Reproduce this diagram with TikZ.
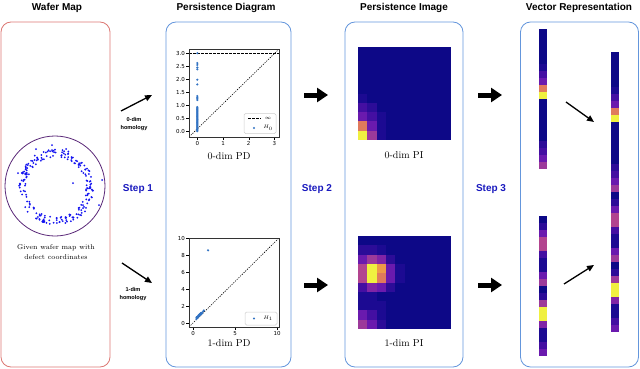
\documentclass[tikz,border=0pt]{standalone}
\usepackage{fontspec}
\newfontfamily\hel{Liberation Sans}
\newfontfamily\dvs{DejaVu Sans}
\usetikzlibrary{arrows.meta}
\definecolor{c0}{HTML}{0D0887}
\definecolor{c1}{HTML}{1C0A92}
\definecolor{c2}{HTML}{2C0C98}
\definecolor{c3}{HTML}{440FA2}
\definecolor{c4}{HTML}{6A1AAE}
\definecolor{c5}{HTML}{8024A6}
\definecolor{c6}{HTML}{9C3A9A}
\definecolor{c7}{HTML}{B2448F}
\definecolor{c8}{HTML}{E07A5C}
\definecolor{c9}{HTML}{EE9A48}
\definecolor{c10}{HTML}{F0F040}
\definecolor{wafred}{RGB}{220,120,115}
\definecolor{panblue}{RGB}{100,150,220}
\definecolor{circpurple}{RGB}{90,40,120}
\definecolor{dotblue}{RGB}{20,20,240}
\definecolor{pdblue}{RGB}{50,115,195}
\definecolor{stepblue}{RGB}{25,25,190}
\begin{document}
\begin{tikzpicture}[x=1pt,y=-1pt,
  panel/.style={draw, rounded corners=10pt, line width=0.8pt, minimum width=#1, minimum height=345pt, inner sep=0pt},
  ttl/.style={font=\hel\bfseries\fontsize{10}{12}\selectfont},
  steplbl/.style={font=\hel\bfseries\fontsize{10}{12}\selectfont, text=stepblue},
  homlbl/.style={font=\hel\bfseries\fontsize{5.6}{8.5}\selectfont, align=center},
  captxt/.style={font=\fontsize{10}{12}\selectfont},
  ticklbl/.style={font=\dvs\fontsize{5.5}{6.5}\selectfont, inner sep=0.5pt},
  axbox/.style={draw=black!80, line width=0.6pt},
  legbox/.style={draw=black!20, fill=white, rounded corners=1.5pt, line width=0.5pt},
  thinarrow/.style={line width=1.3pt, -{Triangle[length=7pt,width=6pt]}},
  blockarrow/.style={line width=5pt, -{Triangle[length=11pt,width=14pt]}},
  pddot/.style={fill=pdblue}
]
\useasboundingbox (0,0) rectangle (640,369);

% panels
\node[panel=109pt, draw=wafred] (wbox) at (55.5,194.5) {};
\node[panel=125pt, draw=panblue] (pdbox) at (228.5,194.5) {};
\node[panel=118pt, draw=panblue] (pibox) at (404,194.5) {};
\node[panel=118pt, draw=panblue] (vbox) at (579.5,194.5) {};

% titles
\node[ttl] (t1) at (57,8) {Wafer Map};
\node[ttl] (t2) at (226,8) {Persistence Diagram};
\node[ttl] (t3) at (404,8) {Persistence Image};
\node[ttl] (t4) at (579,8) {Vector Representation};

% wafer map
\node[draw=circpurple, circle, minimum size=100pt, line width=0.8pt, inner sep=0pt] (wafer) at (55,186) {};
\pgfmathsetseed{11}
\foreach \k in {1,...,220}{
  \pgfmathsetmacro\wa{360*rnd}
  \pgfmathsetmacro\wr{34+4*rand}
  \fill[dotblue, shift={(56,187)}] (\wa:\wr) circle (1pt);
}
\foreach \p in {(52,145),(36,149),(66,149),(18,173),(73,183),(102,180),(99,205)}
  \fill[dotblue] \p circle (1pt);
\node[font=\fontsize{7}{9.5}\selectfont, align=center] (wcap) at (56,252) {Given wafer map with\\defect coordinates};

% step 1 arrows
\coordinate (a0s) at (121,111); \coordinate (a0e) at (152,95);
\coordinate (a1s) at (122,263); \coordinate (a1e) at (152,283);
\draw[thinarrow] (a0s) -- (a0e);
\draw[thinarrow] (a1s) -- (a1e);
\node[homlbl] (h0) at (134,124) {0-dim\\homology};
\node[homlbl] (h1) at (133,294) {1-dim\\homology};
\node[steplbl] (s1) at (138,189) {Step 1};

% ---------- PD 0 ----------
\begin{scope}[shift={(197.3,131.2)}, x=25.7pt, y=26pt]
  \begin{scope}
    \clip (-0.32,-0.22) rectangle (3.18,3.16);
    \draw[dash pattern=on 1.2pt off 1.2pt, line width=0.6pt] (-0.32,-0.22) -- (3.18,3.16);
    \draw[dash pattern=on 2.5pt off 1.5pt, line width=0.6pt] (-0.32,3) -- (3.18,3);
  \end{scope}
  \foreach \v in {0,0.03,...,0.95} \fill[pddot] (0,\v) circle (1.2pt);
  \foreach \v in {1.2,1.25,1.3,1.35,1.8,1.98,2.38,2.45,2.55,2.62,3.0} \fill[pddot] (0,\v) circle (1.2pt);
  \foreach \v in {0.0,0.5,1.0,1.5,2.0,2.5,3.0}{
    \draw[line width=0.4pt] (-0.32,\v) -- ++(-3pt,0);
    \node[ticklbl, anchor=east] at ([xshift=-3.5pt]-0.32,\v) {\v};
  }
  \foreach \v in {0,1,2,3}{
    \draw[line width=0.4pt] (\v,-0.22) -- ++(0,-3pt);
    \node[ticklbl, anchor=north] at ([yshift=-3.5pt]\v,-0.22) {\v};
  }
\end{scope}
\draw[axbox] (189,49) rectangle (279,137);
\node[legbox, minimum width=32pt, minimum height=20pt] (leg0) at (260,123.5) {};
\draw[dash pattern=on 2.5pt off 1.5pt, line width=0.6pt] (248,118) -- (261,118);
\node[font=\fontsize{5}{6}\selectfont, inner sep=0pt] (inf0) at (268,118) {$\infty$};
\fill[pdblue] (254,128) circle (1.2pt);
\node[font=\fontsize{5}{6}\selectfont, inner sep=0pt] (lh0) at (268,128) {$H_0$};
\node[captxt] (pd0) at (229,156) {0-dim PD};

% ---------- PD 1 ----------
\begin{scope}[shift={(193,323)}, x=8.4pt, y=8.5pt]
  \begin{scope}
    \clip (-0.48,-0.47) rectangle (10.24,10);
    \draw[dash pattern=on 1.2pt off 1.2pt, line width=0.6pt] (-0.48,-0.47) -- (10.24,10);
  \end{scope}
  \fill[pddot] (1.8,8.55) circle (1.2pt);
  \pgfmathsetseed{5}
  \foreach \k in {1,...,28}{
    \pgfmathsetmacro\pt{0.35+0.95*rnd}
    \pgfmathsetmacro\pw{\pt+0.05+0.2*rnd}
    \fill[pddot] (\pt,\pw) circle (1.2pt);
  }
  \foreach \v in {0,2,4,6,8,10}{
    \draw[line width=0.4pt] (-0.48,\v) -- ++(-3pt,0);
    \node[ticklbl, anchor=east] at ([xshift=-3.5pt]-0.48,\v) {\v};
  }
  \foreach \v in {0,5,10}{
    \draw[line width=0.4pt] (\v,-0.47) -- ++(0,-3pt);
    \node[ticklbl, anchor=north] at ([yshift=-3.5pt]\v,-0.47) {\v};
  }
\end{scope}
\draw[axbox] (189,238) rectangle (279,327);
\node[legbox, minimum width=32pt, minimum height=13pt] (leg1) at (261,318.5) {};
\fill[pdblue] (254,318.5) circle (1.2pt);
\node[font=\fontsize{5}{6}\selectfont, inner sep=0pt] (lh1) at (268,318.5) {$H_1$};
\node[captxt] (pd1) at (229,343) {1-dim PD};

% step 2
\coordinate (b0s) at (304,95); \coordinate (b0e) at (328,95);
\coordinate (b1s) at (304,285); \coordinate (b1e) at (328,285);
\draw[blockarrow] (b0s) -- (b0e);
\draw[blockarrow] (b1s) -- (b1e);
\node[steplbl] (s2) at (317,189) {Step 2};

% ---------- PI 0 ----------
\fill[c0] (358,47) rectangle (451,140);
\foreach \i/\j/\c in {0/5/c1,0/6/c3,0/7/c4,0/8/c8,0/9/c10,
  1/6/c2,1/7/c3,1/8/c4,1/9/c6,2/7/c1,2/8/c1,2/9/c1}
  \fill[\c] (358+9.3*\i,47+9.3*\j) rectangle ++(9.3,9.3);
\node[minimum size=93pt, inner sep=0pt] (pi0) at (404.5,93.5) {};
\node[captxt] (pil0) at (404,155) {0-dim PI};

% ---------- PI 1 ----------
\fill[c0] (358,236) rectangle (451,329);
\foreach \i/\j/\c in {0/1/c2,1/1/c2,2/1/c1,
  0/2/c4,1/2/c6,2/2/c5,3/2/c2,
  0/3/c7,1/3/c10,2/3/c9,3/3/c4,4/3/c1,
  0/4/c7,1/4/c10,2/4/c8,3/4/c4,4/4/c1,
  0/5/c3,1/5/c5,2/5/c4,3/5/c2,
  0/6/c1,1/6/c1,0/7/c1,1/7/c1,2/7/c1,
  0/8/c4,1/8/c3,2/8/c1,0/9/c6,1/9/c4,2/9/c2}
  \fill[\c] (358+9.3*\i,236+9.3*\j) rectangle ++(9.3,9.3);
\node[minimum size=93pt, inner sep=0pt] (pi1) at (404.5,282.5) {};
\node[captxt] (pil1) at (404,343) {1-dim PI};

% step 3
\coordinate (c0s) at (478,95); \coordinate (c0e) at (502,95);
\coordinate (c1s) at (478,285); \coordinate (c1e) at (502,285);
\draw[blockarrow] (c0s) -- (c0e);
\draw[blockarrow] (c1s) -- (c1e);
\node[steplbl] (s3) at (491,189) {Step 3};

% ---------- vectors ----------
\foreach \c [count=\i from 0] in {c0,c0,c0,c0,c0,c1,c3,c4,c8,c10,c0,c0,c0,c0,c0,c0,c2,c3,c4,c6}
  \fill[\c] (539,29+7*\i) rectangle ++(8,7);
\foreach \c [count=\i from 0] in {c0,c2,c4,c7,c7,c3,c1,c1,c4,c6,c0,c2,c6,c10,c10,c5,c1,c1,c3,c4}
  \fill[\c] (539,216+7*\i) rectangle ++(8,7);
\foreach \c [count=\i from 0] in {c0,c0,c0,c0,c0,c1,c3,c4,c8,c10,c0,c0,c0,c0,c0,c0,c2,c3,c4,c6,
  c0,c2,c4,c7,c7,c3,c1,c1,c4,c6,c0,c2,c6,c10,c10,c5,c1,c1,c3,c4}
  \fill[\c] (611,52+7*\i) rectangle ++(8,7);
\node[minimum width=8pt, minimum height=140pt, inner sep=0pt] (v0) at (543,99) {};
\node[minimum width=8pt, minimum height=140pt, inner sep=0pt] (v1) at (543,286) {};
\node[minimum width=8pt, minimum height=280pt, inner sep=0pt] (vc) at (615,192) {};
\coordinate (d0s) at (566,102); \coordinate (d0e) at (594,122);
\coordinate (d1s) at (564,284); \coordinate (d1e) at (594,265);
\draw[thinarrow] (d0s) -- (d0e);
\draw[thinarrow] (d1s) -- (d1e);
\end{tikzpicture}
\end{document}
